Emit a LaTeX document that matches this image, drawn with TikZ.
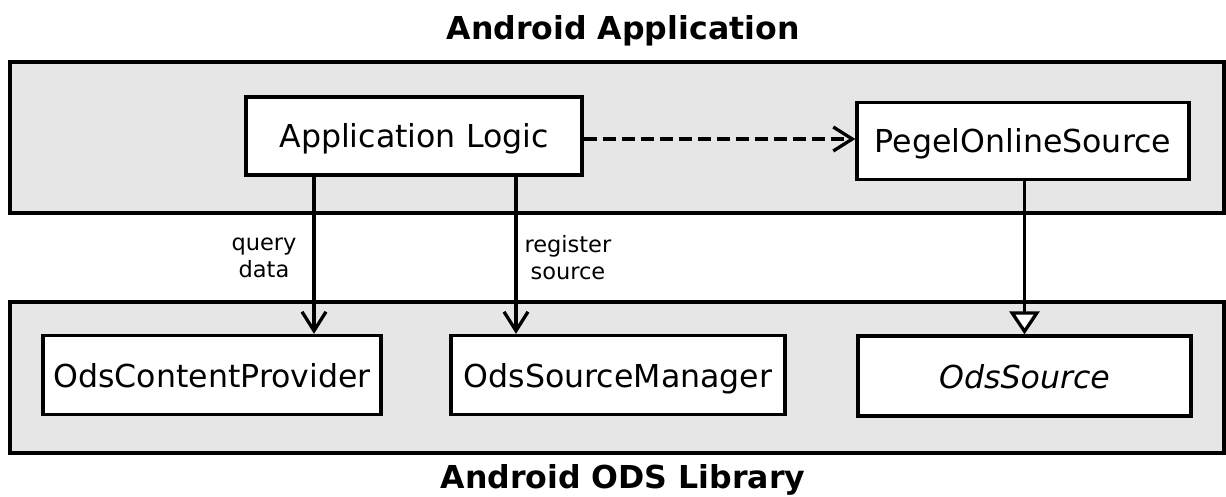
\documentclass[tikz,border=0pt]{standalone}
\usepackage{fontspec}
\setmainfont{DejaVu Sans}
\usetikzlibrary{arrows.meta}
\definecolor{contgray}{HTML}{E6E6E6}
\tikzset{
  container/.style={draw=black, line width=3.3pt, fill=contgray, rectangle, inner sep=0pt},
  classbox/.style={draw=black, line width=3.3pt, fill=white, rectangle, inner sep=0pt,
    font=\fontsize{31.6}{38}\selectfont, text height=24pt, text depth=0pt},
  title/.style={font=\fontsize{31.6}{38}\selectfont\bfseries},
  lbl/.style={font=\fontsize{22.5}{27}\selectfont, align=center},
  usearrow/.style={line width=3.3pt, -{Straight Barb[length=19pt,width=24pt,line width=3.3pt]}},
  deparrow/.style={usearrow, dash pattern=on 13pt off 6pt},
  inherit/.style={line width=3.3pt, -{Triangle[open,length=23pt,width=30pt,line width=3.3pt,fill=white]}}
}
\begin{document}
\begin{tikzpicture}[x=1pt,y=-1pt]
\useasboundingbox (0,0) rectangle (1226,497);
% containers
\node[container, minimum width=1214pt, minimum height=151pt] (topc) at (617,137.5) {};
\node[container, minimum width=1214pt, minimum height=151pt] (botc) at (617,377.5) {};
% titles
\node[title] (ttop) at (623,31) {Android Application};
\node[title] (tbot) at (623,480) {Android ODS Library};
% class boxes
\node[classbox, minimum width=336pt, minimum height=78pt] (appl) at (414,136) {Application Logic};
\node[classbox, minimum width=332pt, minimum height=77pt] (pegel) at (1023,141) {PegelOnlineSource};
\node[classbox, minimum width=338pt, minimum height=79pt] (cp) at (212,375) {OdsContentProvider};
\node[classbox, minimum width=334pt, minimum height=79pt] (sm) at (618,375) {OdsSourceManager};
\node[classbox, minimum width=333pt, minimum height=80pt] (src) at (1024.5,376) {\itshape OdsSource};
% connectors
\draw[deparrow] (appl.east |- 0,139) -- (pegel.west |- 0,139);
\draw[usearrow] (appl.south -| 314,0) -- (cp.north -| 314,0);
\draw[usearrow] (appl.south -| 516,0) -- (sm.north -| 516,0);
\draw[inherit] (pegel.south -| src.north) -- (src.north);
% labels
\node[lbl, anchor=east] (lq) at (300,258) {query\\data};
\node[lbl, anchor=west] (lr) at (521,258) {register\\source};
\end{tikzpicture}
\end{document}
